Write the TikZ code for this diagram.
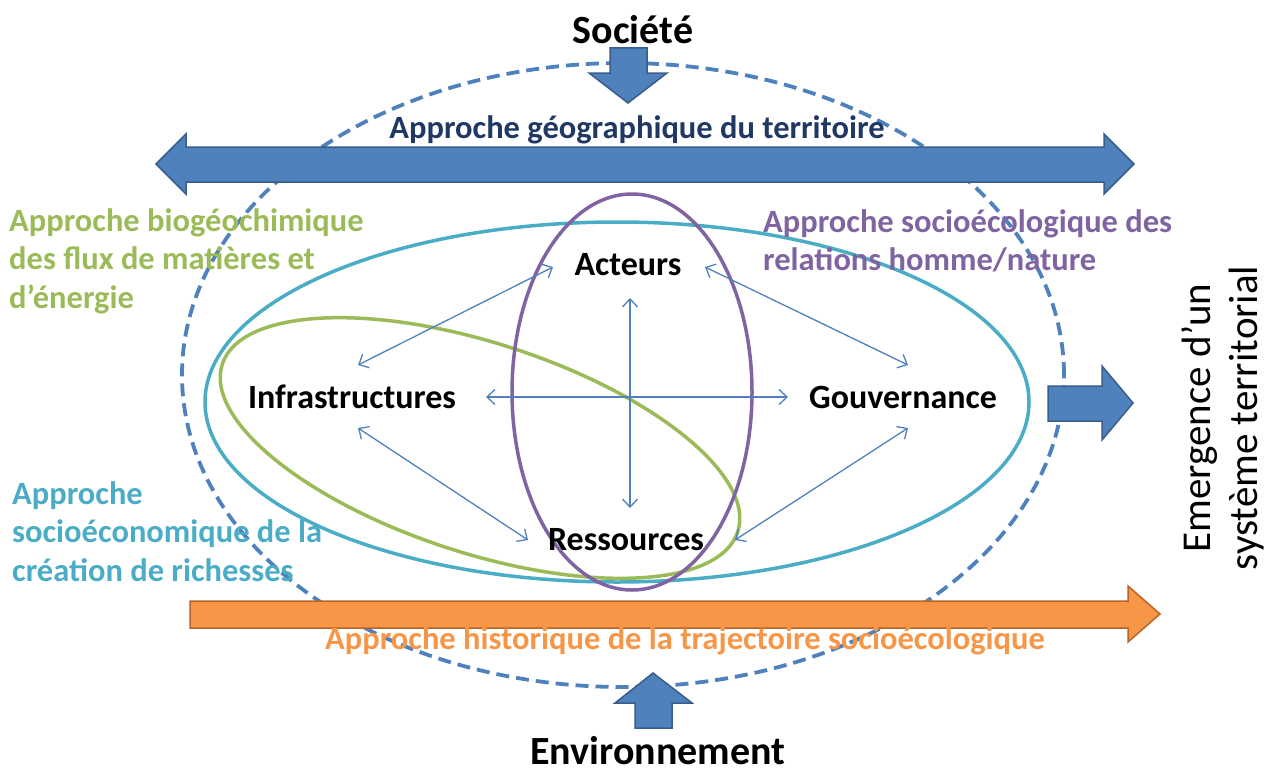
\documentclass[tikz,border=0pt]{standalone}
\usepackage{fontspec}
\setmainfont{Carlito}
\usetikzlibrary{arrows.meta}
\definecolor{bA}{RGB}{79,129,189}
\definecolor{bAd}{RGB}{56,93,138}
\definecolor{cyanE}{RGB}{75,172,198}
\definecolor{greenE}{RGB}{155,187,89}
\definecolor{purpE}{RGB}{128,100,162}
\definecolor{oranF}{RGB}{247,150,70}
\definecolor{oranD}{RGB}{182,100,40}
\definecolor{navyT}{RGB}{31,56,100}
\begin{document}
\begin{tikzpicture}[x=1pt,y=-1pt,
  lbl/.style={font=\bfseries\fontsize{34}{40}\selectfont, inner sep=0pt},
  big/.style={font=\bfseries\fontsize{40}{46}\selectfont, inner sep=0pt},
  approach/.style={font=\bfseries\fontsize{32.5}{38.5}\selectfont, inner sep=0pt, align=left},
  bandtitle/.style={font=\bfseries\fontsize{32.5}{36}\selectfont, inner sep=0pt},
  link/.style={draw=bA, line width=1.3pt, {Straight Barb[length=8pt,width=15pt]}-{Straight Barb[length=8pt,width=15pt]}},
  blockblue/.style={fill=bA, draw=bAd, line width=1.5pt, line join=miter},
  blockorange/.style={fill=oranF, draw=oranD, line width=1.5pt, line join=miter},
  ring/.style={line width=3.5pt}
]
\useasboundingbox (0,0) rectangle (1273,776);

% dashed outer ellipse
\draw[draw=bA, line width=3.8pt, dash pattern=on 13pt off 7pt] (623,375) ellipse [x radius=441pt, y radius=312pt];

% top double arrow
\draw[blockblue] (156,164) -- (186,134) -- (186,147) -- (1104,147) -- (1104,134) -- (1134,164) -- (1104,194) -- (1104,182) -- (186,182) -- (186,194) -- cycle;

% orange arrow
\draw[blockorange] (190,601) -- (1128,601) -- (1128,586) -- (1160,614) -- (1128,642) -- (1128,628) -- (190,628) -- cycle;

% down arrow (Société)
\draw[blockblue] (610,48) -- (647,48) -- (647,73) -- (667,73) -- (628,103) -- (589,73) -- (610,73) -- cycle;
% up arrow (Environnement)
\draw[blockblue] (635,728) -- (672,728) -- (672,703) -- (692,703) -- (653,673) -- (615,703) -- (635,703) -- cycle;
% right arrow
\draw[blockblue] (1048,386) -- (1102,386) -- (1102,366) -- (1133,403) -- (1102,440) -- (1102,421) -- (1048,421) -- cycle;

% ellipses
\draw[ring, draw=cyanE] (617,402) ellipse [x radius=412pt, y radius=180pt];
\draw[ring, draw=greenE] (480,448) ellipse [x radius=271pt, y radius=105pt, rotate=-18];
\draw[ring, draw=purpE] (632,392) ellipse [x radius=120pt, y radius=198pt];

% central nodes
\node[lbl] (act) at (628,265) {Acteurs};
\node[lbl] (inf) at (352,397) {Infrastructures};
\node[lbl] (gov) at (903,397) {Gouvernance};
\node[lbl] (res) at (626,540) {Ressources};

% links
\draw[link] ([shift={(-75,2)}]act.center) -- ([shift={(6,-32)}]inf.center);
\draw[link] ([shift={(77,2)}]act.center) -- ([shift={(5,-32)}]gov.center);
\draw[link] ([shift={(2,33)}]act.center) -- ([shift={(4,-32)}]res.center);
\draw[link] ([shift={(134,0)}]inf.center) -- ([shift={(-115,0)}]gov.center);
\draw[link] ([shift={(6,31)}]inf.center) -- ([shift={(-98,0)}]res.center);
\draw[link] ([shift={(109,0)}]res.center) -- ([shift={(5,31)}]gov.center);

% titles
\node[big] (soc) at (633,30) {Société};
\node[big, anchor=base] (env) at (658,764) {Environnement};
\node[bandtitle, text=navyT] (geo) at (637,130) {Approche géographique du territoire};
\node[bandtitle, text=oranF] (hist) at (685,641) {Approche historique de la trajectoire socioécologique};

% approach texts
\node[approach, text=greenE, anchor=north west] (bio) at (9,208)
  {Approche biogéochimique\\des flux de matières et\\d’énergie};
\node[approach, text=cyanE, anchor=north west] (eco) at (12,481)
  {Approche\\socioéconomique de la\\création de richesses};
\node[approach, text=purpE, anchor=north west] (soceco) at (763,209)
  {Approche socioécologique des\\relations homme/nature};

% vertical text
\node[font=\fontsize{41}{47}\selectfont, align=center, rotate=90, inner sep=0pt] (emer) at (1223,418)
  {Emergence d’un\\système territorial};
\end{tikzpicture}
\end{document}
